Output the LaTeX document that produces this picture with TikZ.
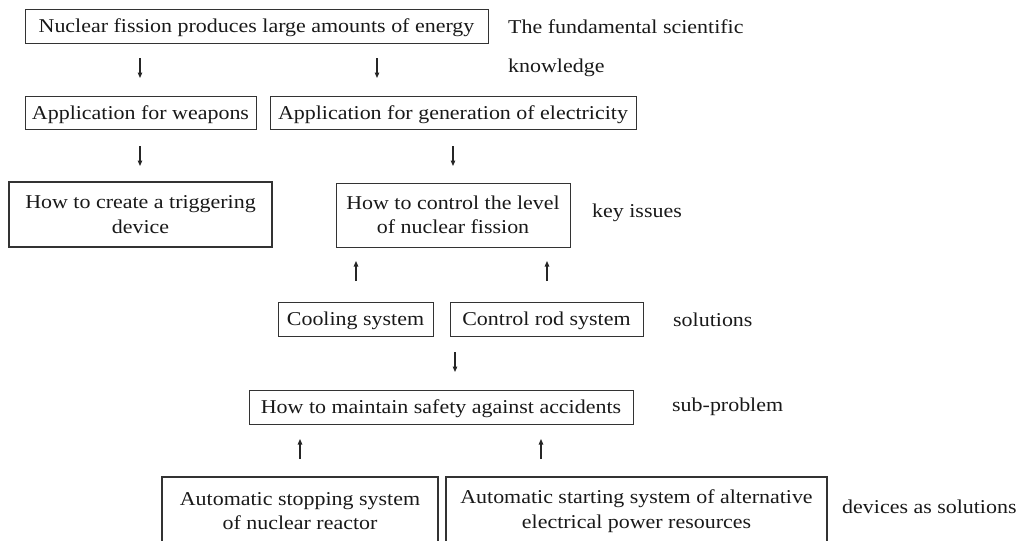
\documentclass[tikz,border=0pt]{standalone}
\usepackage{fontspec}
\setmainfont[FakeStretch=1.12]{Liberation Serif}
\usetikzlibrary{arrows.meta}
\begin{document}
\begin{tikzpicture}[x=1pt,y=-1pt,
  box/.style={draw=black!80, line width=0.8pt, inner sep=0pt, align=center, text=black!90, font=\fontsize{19.6}{24.5}\selectfont},
  oneline/.style={box, text height=13.5pt, text depth=0pt},
  thickbox/.style={box, line width=1.6pt},
  side/.style={anchor=west, inner sep=0pt, text=black!90, font=\fontsize{19.6}{24.5}\selectfont},
  arr/.style={line width=1.1pt, draw=black!85, -{Triangle[length=5.5pt,width=4.5pt]}}
]
\useasboundingbox (0,0) rectangle (1021,541);
\clip (0,0) rectangle (1021,541);

% boxes
\node[oneline, minimum width=463pt, minimum height=34pt] (nuc) at (256.5,26) {Nuclear fission produces large amounts of energy};
\node[oneline, minimum width=231pt, minimum height=33pt] (weap) at (140.5,112.5) {Application for weapons};
\node[oneline, minimum width=366pt, minimum height=33pt] (elec) at (453,112.5) {Application for generation of electricity};
\node[thickbox, minimum width=263pt, minimum height=65pt] (trig) at (140.5,214.5) {How to create a triggering\\device};
\node[box, minimum width=234pt, minimum height=64pt] (ctrl) at (453,215) {How to control the level\\of nuclear fission};
\node[oneline, minimum width=155pt, minimum height=34pt] (cool) at (355.5,319) {Cooling system};
\node[oneline, minimum width=193pt, minimum height=34pt] (rod) at (546.5,319) {Control rod system};
\node[oneline, minimum width=384pt, minimum height=34pt] (safe) at (441,407) {How to maintain safety against accidents};
\node[thickbox, minimum width=276pt, minimum height=68pt] (stop) at (300,511) {Automatic stopping system\\of nuclear reactor};
\node[thickbox, minimum width=381pt, minimum height=68pt] (start) at (636.5,511) {Automatic starting system of alternative\\electrical power resources};

% side labels
\node[side] (l1) at (508,27) {The fundamental scientific};
\node[side] (l2) at (508,68) {knowledge};
\node[side] (l3) at (592,213) {key issues};
\node[side] (l4) at (673,320) {solutions};
\node[side] (l5) at (672,407) {sub-problem};
\node[side] (l6) at (842,507) {devices as solutions};

% free-standing arrows
\coordinate (a1s) at (140,58);  \coordinate (a1e) at (140,78);
\coordinate (a2s) at (377,58);  \coordinate (a2e) at (377,78);
\coordinate (a3s) at (140,146); \coordinate (a3e) at (140,166);
\coordinate (a4s) at (453,146); \coordinate (a4e) at (453,166);
\coordinate (a5s) at (356,281); \coordinate (a5e) at (356,261);
\coordinate (a6s) at (547,281); \coordinate (a6e) at (547,261);
\coordinate (a7s) at (455,352); \coordinate (a7e) at (455,372);
\coordinate (a8s) at (300,459); \coordinate (a8e) at (300,439);
\coordinate (a9s) at (541,459); \coordinate (a9e) at (541,439);
\foreach \i in {1,...,9}{\draw[arr] (a\i s) -- (a\i e);}
\end{tikzpicture}
\end{document}
